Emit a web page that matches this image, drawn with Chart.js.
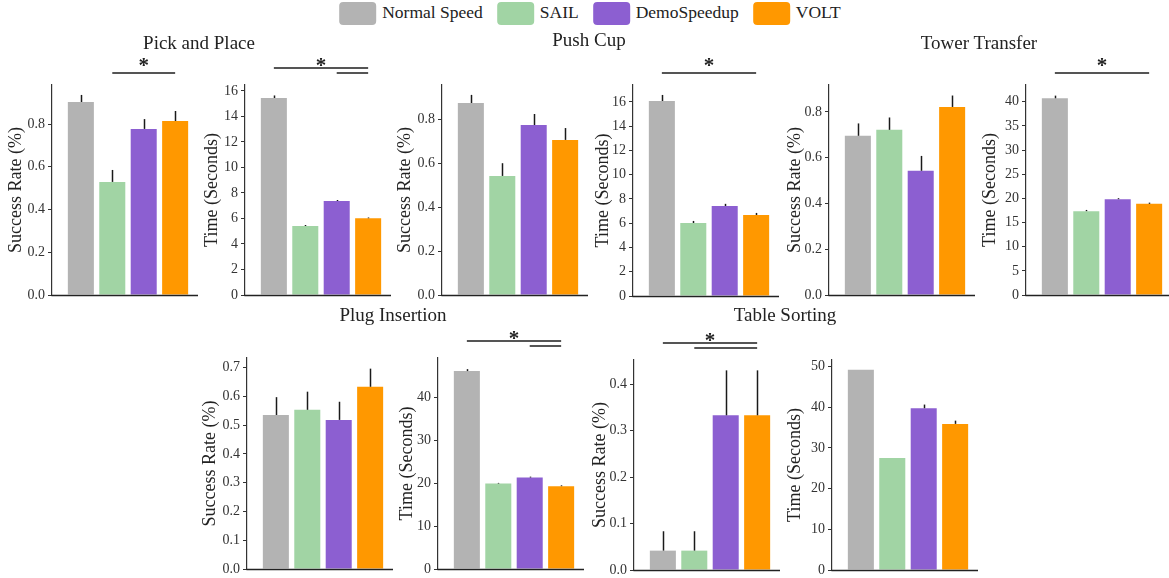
<!DOCTYPE html>
<html><head><meta charset="utf-8">
<script src="https://cdn.jsdelivr.net/npm/chart.js@4.4.1/dist/chart.umd.min.js"></script>
<style>
html,body{margin:0;padding:0;background:#fff}
body{width:1169px;height:578px;position:relative;overflow:hidden;font-family:'Liberation Serif','Times New Roman',serif;color:#222}
canvas{position:absolute}
.title{position:absolute;font-size:19px;line-height:19px;white-space:nowrap;transform:translateX(-50%);z-index:2}
#legend{position:absolute;left:590px;top:2px;transform:translateX(-50%);display:flex;align-items:center;white-space:nowrap;font-size:17.5px;z-index:2}
.sw{width:37px;height:23px;border-radius:4px;margin-right:6px}
.lt{margin-right:14px;position:relative;top:-1px}
</style></head>
<body>
<div id="legend"></div>
<script>
// ---------- data ----------
const methods = ['Normal Speed', 'SAIL', 'DemoSpeedup', 'VOLT'];
const tasks = ['Pick and Place', 'Push Cup', 'Tower Transfer', 'Plug Insertion', 'Table Sorting'];
// success rate mean per task (rows) and method (columns)
const successRate = [
  [0.903, 0.529, 0.777, 0.814],
  [0.874, 0.542, 0.774, 0.706],
  [0.696, 0.722, 0.543, 0.822],
  [0.535, 0.553, 0.518, 0.633],
  [0.0417, 0.0417, 0.333, 0.333]
];
const successErr = [
  [0.033, 0.056, 0.046, 0.047],
  [0.037, 0.058, 0.050, 0.054],
  [0.054, 0.054, 0.065, 0.050],
  [0.062, 0.063, 0.063, 0.063],
  [0.0417, 0.0417, 0.0967, 0.0967]
];
// completion time in seconds
const timeSec = [
  [15.45, 5.41, 7.37, 6.02],
  [16.08, 6.02, 7.42, 6.68],
  [40.7, 17.35, 19.83, 18.86],
  [46.25, 19.97, 21.38, 19.35],
  [49.2, 27.5, 39.75, 35.9]
];
const timeErr = [
  [0.2, 0.08, 0.08, 0.06],
  [0.5, 0.17, 0.18, 0.17],
  [0.55, 0.25, 0.2, 0.25],
  [0.45, 0.15, 0.2, 0.2],
  [0, 0, 0.9, 0.8]
];
// y-axis tick steps and axis maxima
const successTickStep = [0.2, 0.2, 0.2, 0.1, 0.1];
const timeTickStep = [2, 2, 5, 10, 10];
const successMax = [0.9825, 0.956, 0.918, 0.733, 0.452];
const timeMax = [16.47, 17.4, 43.45, 49.3, 51.6];
// significance brackets: pairs of method indices (top line first)
const successSig = [[[1, 3]], [], [], [], [[0, 3], [1, 3]]];
const timeSig = [[[0, 3], [2, 3]], [[0, 3]], [[0, 3]], [[0, 3], [2, 3]], []];

// ---------- style / layout ----------
const colors = ['#b3b3b3', '#a1d4a4', '#8c5fd1', '#ff9800'];
const FONT = "'Liberation Serif','Times New Roman',serif";
const panels = [
  {task:0, kind:'s', ax:52,   top:85,  bottom:295, dx:36},
  {task:0, kind:'t', ax:245,  top:85,  bottom:295, dx:32.5},
  {task:1, kind:'s', ax:442,  top:85,  bottom:295, dx:36.5},
  {task:1, kind:'t', ax:633,  top:85,  bottom:296, dx:30},
  {task:2, kind:'s', ax:829,  top:85,  bottom:295, dx:33.5},
  {task:2, kind:'t', ax:1026, top:85,  bottom:295, dx:35.5},
  {task:3, kind:'s', ax:247,  top:358, bottom:569, dx:36.5},
  {task:3, kind:'t', ax:438,  top:358, bottom:569, dx:30.5},
  {task:4, kind:'s', ax:634,  top:360, bottom:570, dx:33.5},
  {task:4, kind:'t', ax:832,  top:360, bottom:570, dx:36.5}
];
const titlePos = [[199, 43], [589, 40], [979, 43], [393, 315], [785, 315]];
const W = 56, PT = 34, PB = 12, AREA_W = 152, XAXIS_LEN = 146;

// legend
const leg = document.getElementById('legend');
methods.forEach((m, i) => {
  const s = document.createElement('div'); s.className = 'sw'; s.style.background = colors[i];
  const t = document.createElement('span'); t.className = 'lt'; t.textContent = m;
  if (i === methods.length - 1) t.style.marginRight = '0';
  leg.appendChild(s); leg.appendChild(t);
});
// titles
tasks.forEach((t, i) => {
  const d = document.createElement('div'); d.className = 'title'; d.textContent = t;
  d.style.left = titlePos[i][0] + 'px'; d.style.top = (titlePos[i][1] - 9.6) + 'px';
  document.body.appendChild(d);
});

const extrasPlugin = {
  id: 'extras',
  afterDatasetsDraw(chart) {
    const {ctx, scales} = chart;
    const errs = chart.options.plugins.extras.errs;
    ctx.save();
    ctx.strokeStyle = '#1a1a1a'; ctx.lineWidth = 1.5;
    chart.data.datasets.forEach((ds, i) => {
      const e = errs[i]; if (!e) return;
      const bar = chart.getDatasetMeta(i).data[0];
      const v = ds.data[0];
      const x = Math.round(bar.x) + 0.5;
      ctx.beginPath();
      ctx.moveTo(x, scales.y.getPixelForValue(v));
      ctx.lineTo(x, scales.y.getPixelForValue(v + e));
      ctx.stroke();
    });
    ctx.restore();
  },
  afterDraw(chart) {
    const {ctx, chartArea} = chart;
    const o = chart.options.plugins.extras;
    ctx.save();
    // bottom spine
    ctx.strokeStyle = '#222'; ctx.lineWidth = 1.3;
    ctx.beginPath();
    ctx.moveTo(chartArea.left - 0.6, chartArea.bottom + 0.5);
    ctx.lineTo(chartArea.left + XAXIS_LEN, chartArea.bottom + 0.5);
    ctx.stroke();
    // significance brackets
    const sig = o.sig, n = sig.length;
    if (n) {
      ctx.strokeStyle = '#555'; ctx.lineWidth = 2;
      const cx = k => chart.getDatasetMeta(k).data[0].x;
      sig.forEach((pr, i) => {
        const y = chartArea.top - (12 + 5 * (n - 1 - i));
        ctx.beginPath(); ctx.moveTo(cx(pr[0]), y); ctx.lineTo(cx(pr[1]), y); ctx.stroke();
      });
      ctx.fillStyle = '#222'; ctx.font = 'bold 21px ' + FONT;
      ctx.textAlign = 'center'; ctx.textBaseline = 'alphabetic';
      const mid = (cx(sig[0][0]) + cx(sig[0][1])) / 2;
      ctx.fillText('*', mid, chartArea.top - 23 + 10);
    }
    ctx.restore();
  }
};

panels.forEach(p => {
  const h = p.bottom - p.top;
  const cw = W + AREA_W + 6, ch = PT + h + PB;
  const c = document.createElement('canvas');
  c.width = cw; c.height = ch;
  c.style.left = (p.ax - W) + 'px'; c.style.top = (p.top - PT) + 'px';
  c.style.width = cw + 'px'; c.style.height = ch + 'px';
  document.body.appendChild(c);
  const isS = p.kind === 's';
  const vals = isS ? successRate[p.task] : timeSec[p.task];
  const errs = isS ? successErr[p.task] : timeErr[p.task];
  const yMax = isS ? successMax[p.task] : timeMax[p.task];
  const step = isS ? successTickStep[p.task] : timeTickStep[p.task];
  const lh = 18 * 1.2;
  new Chart(c, {
    type: 'bar',
    data: {
      labels: [tasks[p.task]],
      datasets: methods.map((m, i) => ({
        label: m, data: [vals[i]], backgroundColor: colors[i],
        categoryPercentage: 0.827, barPercentage: 0.828, borderWidth: 0
      }))
    },
    options: {
      responsive: false, animation: false, devicePixelRatio: 1,
      layout: {padding: {left: 0, top: PT, right: cw - W - AREA_W, bottom: PB}},
      plugins: {
        legend: {display: false}, tooltip: {enabled: false},
        extras: {errs: errs, sig: isS ? successSig[p.task] : timeSig[p.task]}
      },
      scales: {
        x: {display: false, offset: true},
        y: {
          min: 0, max: yMax,
          afterFit: s => { s.width = W; },
          afterBuildTicks: s => { s.ticks = s.ticks.filter(t => t.value <= yMax - 1e-6); },
          border: {display: true, color: '#333', width: 1.2},
          grid: {display: true, drawOnChartArea: false, drawTicks: true, tickLength: 4, color: '#333', lineWidth: 1},
          ticks: {
            stepSize: step, includeBounds: false, padding: 3, color: '#333',
            font: {family: FONT, size: 14},
            callback: v => isS ? Number(v).toFixed(1) : String(Math.round(v))
          },
          title: {
            display: true, text: isS ? 'Success Rate (%)' : 'Time (Seconds)',
            color: '#222', font: {family: FONT, size: 18},
            padding: {top: W - p.dx - lh / 2, bottom: 0}
          }
        }
      }
    },
    plugins: [extrasPlugin]
  });
});
</script>
</body></html>
